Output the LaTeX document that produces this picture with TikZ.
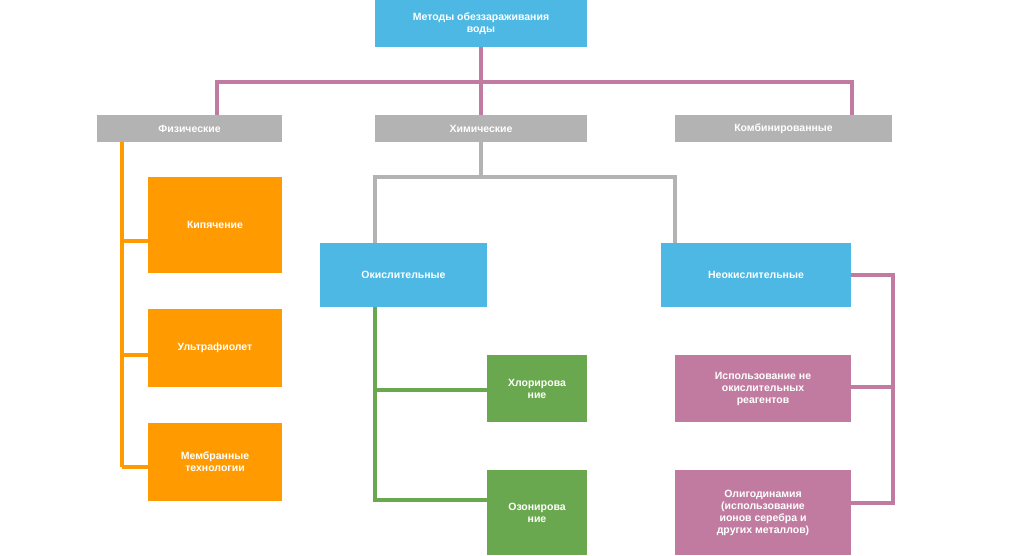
\documentclass[tikz,border=0pt]{standalone}
\usepackage{fontspec}
\setmainfont{Liberation Sans}
\definecolor{skyb}{HTML}{4DB8E3}
\definecolor{greyb}{HTML}{B3B3B3}
\definecolor{orng}{HTML}{FF9A00}
\definecolor{grn}{HTML}{6AA84F}
\definecolor{pnk}{HTML}{C27BA0}
\begin{document}
\begin{tikzpicture}[x=1pt,y=-1pt]
        \tikzset{box/.style={draw=none, text=white, font=\bfseries\fontsize{10.5}{12}\selectfont, align=center, inner sep=2pt},
                 link/.style={line width=3.5pt}}
        \useasboundingbox (0,0) rectangle (1024,555);
        \begin{scope}[every node/.style={box}]
                \node[fill=skyb, minimum width=212, minimum height=47] (M) at (481,23.5) {Методы обеззараживания\\воды};
                \node[fill=greyb, minimum width=185, minimum height=27] (F) at (189.5,128.5) {Физические};
                \node[fill=greyb, minimum width=212, minimum height=27] (H) at (481,128.5) {Химические};
                \node[fill=greyb, minimum width=217, minimum height=27] (K) at (783.5,128.5) {Комбинированные};
                \node[fill=orng, minimum width=134, minimum height=96] (B1) at (215,225) {Кипячение};
                \node[fill=orng, minimum width=134, minimum height=78] (B2) at (215,348) {Ультрафиолет};
                \node[fill=orng, minimum width=134, minimum height=78] (B3) at (215,462) {Мембранные\\технологии};
                \node[fill=skyb, minimum width=167, minimum height=64] (O) at (403.5,275) {Окислительные};
                \node[fill=skyb, minimum width=190, minimum height=64] (N) at (756,275) {Неокислительные};
                \node[fill=grn, minimum width=100, minimum height=67] (G1) at (537,388.5) {Хлорирова\\ние};
                \node[fill=grn, minimum width=100, minimum height=85] (G2) at (537,512.5) {Озонирова\\ние};
                \node[fill=pnk, minimum width=176, minimum height=67] (P1) at (763,388.5) {Использование не\\окислительных\\реагентов};
                \node[fill=pnk, minimum width=176, minimum height=85] (P2) at (763,512.5) {Олигодинамия\\(использование\\ионов серебра и\\других металлов)};
        \end{scope}
        \begin{scope}[every path/.style={link}]
                \draw[pnk] (M.south) |- (217,82) -- (F.north -| 217,0);
                \draw[pnk] (217,82) -| (K.north -| 852,0);
                \draw[pnk] (M.south) -- (H.north);
                \draw[orng] (122,142) -- (122,467);
                \draw[orng] (122,241) -- (B1.west |- 0,241);
                \draw[orng] (122,355) -- (B2.west |- 0,355);
                \draw[orng] (122,467) -- (B3.west |- 0,467);
                \draw[greyb] (H.south) -- (481,177) -| (O.north -| 375,0);
                \draw[greyb] (481,177) -| (N.north -| 675,0);
                \draw[grn] (O.south -| 375,0) |- (G2.west |- 0,500);
                \draw[grn] (375,390) -- (G1.west |- 0,390);
                \draw[pnk] (N.east) -| (893,503) -- (P2.east |- 0,503);
                \draw[pnk] (893,387) -- (P1.east |- 0,387);
        \end{scope}
\end{tikzpicture}
\end{document}
